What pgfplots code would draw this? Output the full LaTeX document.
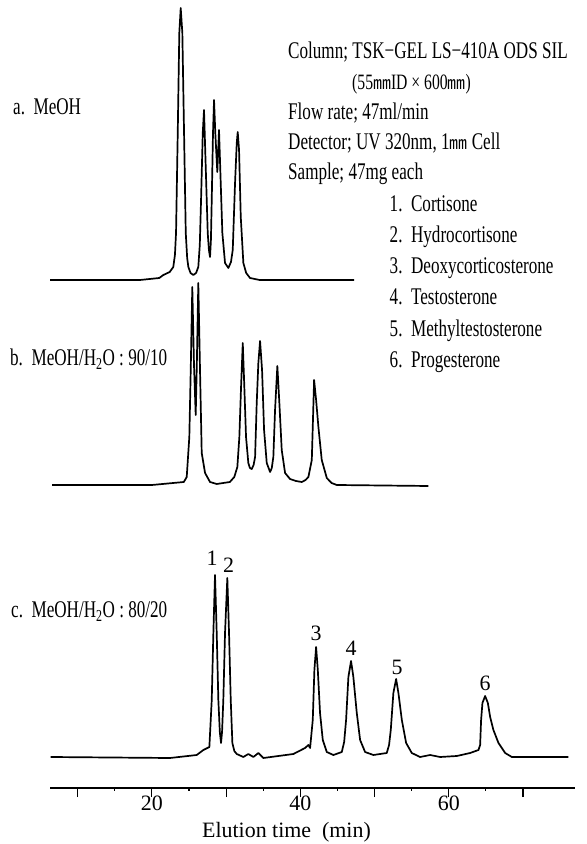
\documentclass[border=0pt]{standalone}
\usepackage{fontspec}
\setmainfont{Liberation Serif}
\newfontfamily\cond{Liberation Serif}[FakeStretch=0.715]
\newfontfamily\cjk{Noto Sans CJK JP}
\usepackage{pgfplots}
\pgfplotsset{compat=1.18}
\newcommand{\mm}{{\cjk\fontsize{18}{18}\selectfont ㎜}}
\begin{document}
\begin{tikzpicture}
\begin{axis}[
  at={(50bp,56bp)}, anchor=south west,
  scale only axis, width=525bp, height=788bp,
  xmin=6.27, xmax=77.0, ymin=56, ymax=844,
  clip=false,
  axis x line*=bottom, axis y line=none,
  axis line style={line width=1.3bp},
  xtick={10,20,...,70}, xticklabels={,20,,40,,60,},
  minor x tick num=1,
  tick align=outside,
  major tick length=9bp, minor tick length=2.5bp,
  tick style={line width=1.1bp, black},
  xticklabel style={font=\fontsize{22}{22}\selectfont, anchor=base, yshift=-13bp},
  xlabel={Elution time\ \ (min)},
  xlabel style={font=\fontsize{22}{22}\selectfont, at={(axis description cs:0.4505,0)}, anchor=base, yshift=-49.3bp},
  cycle list={{black}},
  every axis plot/.append style={line width=1.7bp, black, line join=round, no markers},
]
% a. MeOH  (baseline 564)
\addplot[black] table[x=t, y expr=\thisrow{h}+564, row sep=\\] {
t h\\ 6.27 0\\ 18.4 0\\ 21.0 2\\ 21.54 5\\ 22.4 8\\ 22.88 13\\ 23.1 25\\ 23.25 47\\ 23.48 147\\ 23.69 247\\ 23.88 272\\ 24.10 247\\ 24.33 147\\ 24.56 47\\ 24.75 22\\ 24.91 13\\ 25.2 7\\ 25.58 5\\ 25.95 7\\ 26.25 13\\ 26.45 35\\ 26.62 80\\ 26.85 147\\ 27.02 170\\ 27.25 113\\ 27.52 47\\ 27.68 30\\ 27.83 23\\ 27.95 40\\ 28.06 80\\ 28.23 147\\ 28.37 180\\ 28.54 147\\ 28.81 108\\ 29.04 150\\ 29.27 97\\ 29.49 47\\ 29.85 17\\ 30.30 12\\ 30.65 18\\ 30.89 30\\ 31.20 97\\ 31.43 137\\ 31.56 148\\ 31.74 130\\ 31.97 63\\ 32.32 17\\ 32.7 7\\ 33.22 2\\ 34.5 0\\ 47.24 0\\
};
% b. MeOH/H2O 90/10 (baseline 359)
\addplot[black] table[x=t, y expr=\thisrow{h}+359, row sep=\\] {
t h\\ 6.54 0\\ 20 0\\ 24.3 3\\ 24.69 8\\ 25.04 48\\ 25.23 115\\ 25.44 198\\ 25.67 120\\ 25.90 70\\ 26.05 120\\ 26.25 202\\ 26.48 115\\ 26.71 32\\ 27.16 12\\ 27.83 3\\ 28.73 1\\ 30.5 3\\ 31.1 8\\ 31.51 18\\ 31.78 48\\ 32.01 98\\ 32.24 142\\ 32.45 98\\ 32.68 48\\ 32.99 22\\ 33.2 17\\ 33.45 16\\ 33.7 20\\ 33.90 28\\ 34.12 82\\ 34.34 122\\ 34.57 144\\ 34.84 115\\ 35.11 55\\ 35.47 22\\ 35.92 13\\ 36.15 17\\ 36.36 28\\ 36.59 75\\ 36.90 119\\ 37.17 82\\ 37.49 35\\ 37.94 12\\ 38.61 6\\ 39.4 4\\ 40.19 3\\ 40.7 5\\ 41.08 8\\ 41.54 25\\ 41.67 58\\ 41.85 105\\ 42.12 85\\ 42.43 58\\ 42.88 25\\ 43.56 7\\ 44.2 2\\ 44.91 0\\ 57.25 -1\\
};
% c. MeOH/H2O 80/20 (baseline 87)
\addplot[black] table[x=t, y expr=\thisrow{h}+87, row sep=\\] {
t h\\ 6.35 0\\ 22.44 -1\\ 26.04 2\\ 26.93 7\\ 27.74 10\\ 28.06 57\\ 28.28 124\\ 28.50 182\\ 28.73 124\\ 28.95 57\\ 29.15 25\\ 29.31 14\\ 29.45 25\\ 29.62 57\\ 29.85 124\\ 30.16 179\\ 30.39 124\\ 30.62 57\\ 30.84 14\\ 31.1 6\\ 31.43 3\\ 32.32 0\\ 32.99 3\\ 33.67 0\\ 34.34 4\\ 35.01 -1\\ 39.06 3\\ 40.63 9\\ 41.08 12\\ 41.31 9\\ 41.67 37\\ 41.89 87\\ 42.12 110\\ 42.35 87\\ 42.65 44\\ 43.02 17\\ 43.56 5\\ 44.45 2\\ 45.58 5\\ 45.9 15\\ 46.16 37\\ 46.47 80\\ 46.83 96\\ 47.14 80\\ 47.60 44\\ 48.05 17\\ 48.72 5\\ 49.84 2\\ 51.64 4\\ 51.95 12\\ 52.18 27\\ 52.53 64\\ 52.90 78\\ 53.21 64\\ 53.67 37\\ 54.25 14\\ 55.01 4\\ 56.13 0\\ 57.48 2\\ 58.83 0\\ 61.08 1\\ 62.87 4\\ 63.99 7\\ 64.22 12\\ 64.35 37\\ 64.53 54\\ 64.89 61\\ 65.26 54\\ 65.57 40\\ 66.01 27\\ 66.69 14\\ 67.59 4\\ 68.49 0\\ 76.12 0\\
};
% peak numbers
\begin{scope}[every node/.style={font=\fontsize{22}{22}\selectfont}]
\node at (axis cs:28.1,286) {1};
\node at (axis cs:30.32,279) {2};
\node at (axis cs:42.12,211) {3};
\node at (axis cs:46.83,196) {4};
\node at (axis cs:53.03,177) {5};
\node at (axis cs:64.89,161) {6};
\end{scope}
\end{axis}
% texts
\begin{scope}[every node/.style={anchor=base west, inner sep=0pt, font=\cond\fontsize{24}{24}\selectfont}]
\node at (288bp,785.7bp) {Column; TSK−GEL LS−410A ODS SIL};
\node[font=\cond\fontsize{22}{22}\selectfont] at (352bp,754bp) {(55\mm ID × 600\mm)};
\node at (288bp,724bp) {Flow rate; 47ml/min};
\node at (288bp,694bp) {Detector; UV 320nm, 1\mm\ Cell};
\node at (288bp,664bp) {Sample; 47mg each};
\node at (389.5bp,632.7bp) {1.\ \ Cortisone};
\node at (389.5bp,601.4bp) {2.\ \ Hydrocortisone};
\node at (389.5bp,570bp) {3.\ \ Deoxycorticosterone};
\node at (389.5bp,539bp) {4.\ \ Testosterone};
\node at (389.5bp,507.4bp) {5.\ \ Methyltestosterone};
\node at (389.5bp,476bp) {6.\ \ Progesterone};
\node at (13bp,729bp) {a.\ \ MeOH};
\node at (10bp,478bp) {b.\ \ MeOH/H\textsubscript{2}O : 90/10};
\node at (11bp,226bp) {c.\ \ MeOH/H\textsubscript{2}O : 80/20};
\end{scope}
\pgfresetboundingbox
\path[use as bounding box] (0,0) rectangle (587bp,844bp);
\end{tikzpicture}
\end{document}
